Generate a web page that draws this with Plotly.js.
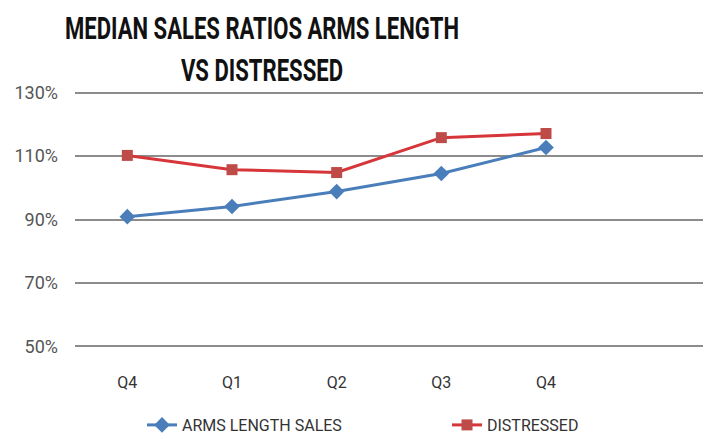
<!DOCTYPE html>
<html>
<head>
<meta charset="utf-8">
<script src="https://cdn.plot.ly/plotly-3.0.1.min.js"></script>
<style>html,body{margin:0;padding:0;background:#fff;}#chart{width:709px;height:439px;}</style>
</head>
<body>
<div id="chart"></div>
<script>
const quarterLabels = ["Q4", "Q1", "Q2", "Q3", "Q4"];
const armsLengthSales = [90.9, 94.1, 98.8, 104.5, 112.7];
const distressed = [110.2, 105.7, 104.8, 115.8, 117.1];
const yTickValues = [50, 70, 90, 110, 130];
const yTickLabels = ["50%", "70%", "90%", "110%", "130%"];

const xIdx = quarterLabels.map((_, i) => i);
const fontFam = "Roboto, 'Liberation Sans', sans-serif";

const traces = [
  {
    x: xIdx, y: armsLengthSales, name: "ARMS LENGTH SALES",
    type: "scatter", mode: "lines+markers",
    line: {color: "#4A7EBB", width: 3},
    marker: {symbol: "diamond", size: 12, color: "#4A7EBB"},
    legend: "legend"
  },
  {
    x: xIdx, y: distressed, name: "DISTRESSED",
    type: "scatter", mode: "lines+markers",
    line: {color: "#D6353A", width: 3},
    marker: {symbol: "square", size: 11, color: "#BE4B48"},
    legend: "legend2"
  }
];

const legendCommon = {
  orientation: "h", yref: "container", xref: "container",
  yanchor: "middle", xanchor: "left",
  font: {family: fontFam, size: 16, color: "#333"},
  bgcolor: "rgba(0,0,0,0)"
};

const layout = {
  width: 709, height: 439,
  margin: {l: 75, r: 6, t: 91, b: 91},
  paper_bgcolor: "#fff", plot_bgcolor: "#fff",
  font: {family: fontFam, color: "#404040", size: 14},
  title: {
    text: "<b>MEDIAN SALES RATIOS ARMS LENGTH<br>VS DISTRESSED</b>",
    font: {family: fontFam, size: 32, color: "#111"},
    x: 262/709, xref: "container", xanchor: "center",
    y: 1 - 39/439, yref: "container", yanchor: "top"
  },
  xaxis: {
    range: [-0.5, 5.5],
    tickvals: xIdx, ticktext: quarterLabels,
    showgrid: false, zeroline: false, showline: false,
    ticks: "", ticklabelstandoff: 23,
    tickfont: {family: fontFam, size: 16, color: "#333"}
  },
  yaxis: {
    range: [49.5, 130.5],
    tickvals: yTickValues, ticktext: yTickLabels,
    showgrid: true, gridcolor: "#8c8c8c", gridwidth: 1.5,
    zeroline: false, showline: false, ticks: "",
    ticklabelstandoff: 16,
    tickfont: {family: fontFam, size: 18, color: "#555"}
  },
  showlegend: true,
  legend: Object.assign({}, legendCommon, {x: 142/709, y: 1 - 425/439}),
  legend2: Object.assign({}, legendCommon, {x: 447/709, y: 1 - 425/439})
};

Plotly.newPlot("chart", traces, layout, {displayModeBar: false, responsive: false}).then(gd => {
  const g = gd.querySelector(".g-gtitle");
  if (g) {
    const cx = 262;
    g.setAttribute("transform", `translate(${cx},0) scale(0.69,1) translate(${-cx},0)`);
  }
});
</script>
</body>
</html>
